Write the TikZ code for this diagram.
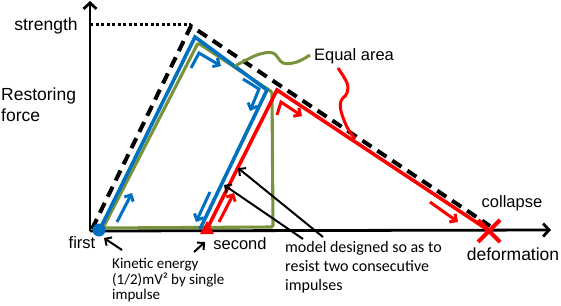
\documentclass[tikz,border=0pt]{standalone}
\usepackage{fontspec}
\setmainfont{Liberation Sans}
\newfontfamily\calfont{Carlito}
\usetikzlibrary{arrows.meta}
\definecolor{myblue}{RGB}{0,112,192}
\definecolor{mygreen}{RGB}{119,147,60}
\definecolor{myred}{RGB}{255,0,0}
\begin{document}
\begin{tikzpicture}[x=1pt,y=-1pt,
  axisline/.style={line width=2.8pt,-{Straight Barb[length=6pt,width=13pt,line width=2.8pt]}},
  bl/.style={myblue,line width=3.6pt,line join=miter},
  gr/.style={mygreen,line width=3.1pt,line join=miter},
  rd/.style={myred,line width=3.6pt,line join=miter},
  sarrow/.style={line width=3pt,line join=miter,-{Straight Barb[length=5pt,width=10pt,line width=3pt]}},
  ptr/.style={black,line width=2pt,-{Straight Barb[length=5pt,width=10pt,line width=2pt]}},
  lab/.style={font=\fontsize{16.5}{19}\selectfont,inner sep=0pt},
  biglab/.style={font=\fontsize{17.5}{21}\selectfont,inner sep=0pt,align=left},
  note/.style={font=\calfont\fontsize{15}{15.5}\selectfont,inner sep=0pt,align=left},
  notebig/.style={font=\calfont\fontsize{16}{19}\selectfont,inner sep=0pt,align=left}]
\useasboundingbox (0,0) rectangle (561,305);

% axes
\coordinate (O) at (90,231);
\coordinate (Ytop) at (90,1);
\coordinate (Xend) at (551,230);
\draw[axisline] (O) -- (Ytop);
\draw[axisline] (O) -- (Xend);

% strength dotted and envelope dashed
\coordinate (S0) at (90,25);
\coordinate (S1) at (191,25);
\coordinate (D0) at (92,229);
\coordinate (D1) at (191,26);
\coordinate (D2) at (490,226);
\draw[line width=3pt,dash pattern=on 3pt off 2.5pt] (S0) -- (S1);
\draw[line width=4pt,dash pattern=on 11pt off 7pt] (D0) -- (D1) -- (D2);

% green path
\coordinate (G0) at (103,228);
\coordinate (G1) at (198,43);
\coordinate (G2) at (272,92);
\coordinate (G3) at (273,227);
\draw[gr,rounded corners=1.5pt] (G0) -- (G1) -- (G2) -- (G3) -- (G0);

% blue path
\coordinate (B0) at (100,229);
\coordinate (B1) at (195,37);
\coordinate (B2) at (267,90);
\coordinate (B3) at (200,229);
\draw[bl] (B0) -- (B1) -- (B2) -- (B3);

% red path
\coordinate (R0) at (207,229);
\coordinate (R1) at (277,90);
\coordinate (R2) at (488,230);
\draw[rd] (R0) -- (R1) -- (R2);

% small direction arrows
\coordinate (ba1) at (117,222); \coordinate (ba1e) at (132,193);
\draw[sarrow,myblue] (ba1) -- (ba1e);
\coordinate (ba2) at (191,68); \coordinate (ba2m) at (199,53); \coordinate (ba2e) at (221,66);
\draw[sarrow,myblue] (ba2) -- (ba2m) -- (ba2e);
\coordinate (ba3) at (243,79); \coordinate (ba3m) at (259,89); \coordinate (ba3e) at (250,111);
\draw[sarrow,myblue] (ba3) -- (ba3m) -- (ba3e);
\coordinate (ba4) at (210,192); \coordinate (ba4e) at (196,222);
\draw[sarrow,myblue] (ba4) -- (ba4e);
\coordinate (ra1) at (219,222); \coordinate (ra1e) at (234,193);
\draw[sarrow,myred] (ra1) -- (ra1e);
\coordinate (ra2) at (277,115); \coordinate (ra2m) at (281,102); \coordinate (ra2e) at (302,116);
\draw[sarrow,myred] (ra2) -- (ra2m) -- (ra2e);
\coordinate (ra3) at (430,202); \coordinate (ra3e) at (458,222);
\draw[sarrow,myred] (ra3) -- (ra3e);

% equal area curves
\draw[mygreen,line width=3pt] plot[smooth,tension=0.6] coordinates {(235,66) (257,55) (273,53) (283,63) (297,62) (310,55)};
\draw[myred,line width=3pt] plot[smooth,tension=0.6] coordinates {(338,68) (347,83) (347,93) (341,101) (341,111) (347,127) (355,139)};

% markers
\node[circle,fill=myblue,inner sep=0pt,minimum size=13pt] (first) at (99,230) {};
\coordinate (T0) at (207,221);
\coordinate (T1) at (200,234);
\coordinate (T2) at (214,234);
\fill[myred] (T0) -- (T1) -- (T2) -- cycle;
\node[inner sep=0pt,minimum size=1pt] (second) at (207,229) {};
\coordinate (X1) at (478,220); \coordinate (X2) at (500,242);
\coordinate (X3) at (478,242); \coordinate (X4) at (500,220);
\draw[myred,line width=4pt] (X1) -- (X2);
\draw[myred,line width=4pt] (X3) -- (X4);

% labels
\node[biglab] (lstrength) at (46,26) {strength};
\node[biglab,anchor=west] (lrest) at (1,105) {Restoring\\force};
\node[lab] (lfirst) at (82,243) {first};
\node[lab] (lsecond) at (240,244) {second};
\node[lab] (lcollapse) at (512,203) {collapse};
\node[biglab] (ldeform) at (513,254) {deformation};
\node[lab] (lequal) at (354,56) {Equal area};
\node[note,anchor=north west] (lkin) at (112,258) {Kinetic energy\\(1/2)mV² by single\\impulse};
\node[notebig,anchor=north west] (lmodel) at (285,241) {model designed so as to\\resist two consecutive\\impulses};

% pointer arrows
\coordinate (p1s) at (122,250); \coordinate (p1e) at (104,238);
\draw[ptr] (p1s) -- (p1e);
\coordinate (p2s) at (194,252); \coordinate (p2e) at (205,242);
\draw[ptr] (p2s) -- (p2e);
\coordinate (p3s) at (323,237); \coordinate (p3e) at (238,168);
\draw[ptr] (p3s) -- (p3e);
\coordinate (p4s) at (303,239); \coordinate (p4e) at (224,185);
\draw[ptr] (p4s) -- (p4e);
\end{tikzpicture}
\end{document}
